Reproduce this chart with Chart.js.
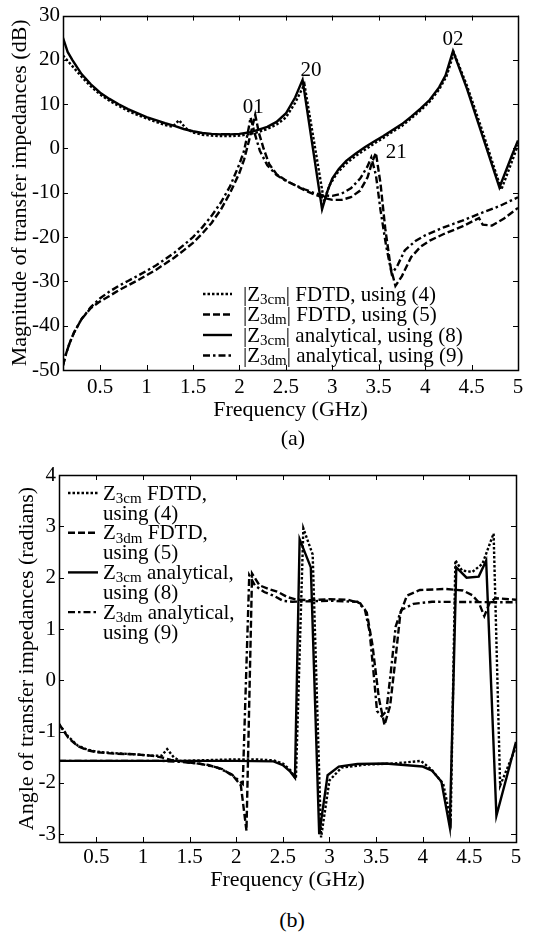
<!DOCTYPE html>
<html>
<head>
<meta charset="utf-8">
<script src="https://cdn.jsdelivr.net/npm/chart.js@4.4.1/dist/chart.umd.min.js"></script>
<style>
  html, body { margin: 0; padding: 0; background: #fff; }
  body { width: 534px; height: 934px; position: relative; overflow: hidden;
         font-family: 'Liberation Serif', 'Times New Roman', serif; color: #000; }
  canvas { position: absolute; left: 0; }
  #magChart { top: 0; }
  #angleChart { top: 455px; }
  .caption { position: absolute; width: 60px; text-align: center; font-size: 22px; line-height: 26px; }
  #capA { left: 263px; top: 425px; }
  #capB { left: 262px; top: 907px; }
</style>
</head>
<body>
<canvas id="magChart" width="534" height="450"></canvas>
<canvas id="angleChart" width="534" height="445"></canvas>
<div class="caption" id="capA">(a)</div>
<div class="caption" id="capB">(b)</div>
<script>
const FONT = "'Liberation Serif', 'Times New Roman', serif"

const freqTicks = [0.5, 1, 1.5, 2, 2.5, 3, 3.5, 4, 4.5, 5]
const magTicks = [-50, -40, -30, -20, -10, 0, 10, 20, 30]
const angleTicks = [-3, -2, -1, 0, 1, 2, 3, 4]

// ---- (a) magnitude, dB ----
const magCmFdtdFreq = [0.1, 0.15, 0.2, 0.3, 0.4, 0.5, 0.6, 0.7, 0.8, 0.9, 1.0, 1.1, 1.2, 1.28, 1.35, 1.42, 1.5, 1.6, 1.7, 1.8, 1.9, 2.0, 2.1, 2.2, 2.3, 2.4, 2.5, 2.6, 2.7, 2.91, 2.97, 3.05, 3.15, 3.25, 3.35, 3.45, 3.55, 3.65, 3.75, 3.85, 3.95, 4.05, 4.15, 4.23, 4.31, 4.45, 4.6, 4.82, 4.93, 5.0]
const magCmFdtd = [21.0, 19.8, 18.6, 16.2, 14.0, 12.2, 10.8, 9.6, 8.5, 7.6, 6.8, 6.0, 5.3, 4.9, 6.4, 4.6, 3.6, 3.1, 2.9, 2.8, 2.8, 2.9, 3.2, 3.7, 4.4, 5.4, 7.0, 10.3, 14.5, -11.8, -8.3, -5.6, -3.4, -1.7, -0.3, 1.1, 2.4, 3.8, 5.1, 6.8, 8.6, 10.6, 13.3, 16.3, 21.6, 14.2, 5.0, -9.3, -3.2, 0.8]

const magDmFdtdFreq = [0.1, 0.13, 0.17, 0.22, 0.3, 0.4, 0.5, 0.6, 0.7, 0.8, 0.9, 1.0, 1.1, 1.2, 1.3, 1.4, 1.5, 1.6, 1.7, 1.8, 1.9, 2.0, 2.05, 2.1, 2.17, 2.21, 2.26, 2.32, 2.4, 2.5, 2.6, 2.7, 2.8, 2.9, 3.0, 3.1, 3.2, 3.3, 3.38, 3.43, 3.47, 3.52, 3.57, 3.63, 3.68, 3.75, 3.85, 3.95, 4.05, 4.2, 4.4, 4.58, 4.62, 4.72, 4.85, 5.0]
const magDmFdtd = [-49.0, -46.5, -44.0, -41.5, -38.5, -36.0, -34.5, -33.3, -32.0, -30.9, -29.8, -28.6, -27.4, -26.0, -24.6, -23.0, -21.3, -19.2, -16.8, -13.8, -10.0, -5.5, -2.5, 1.5, 7.6, 3.5, 0.0, -3.5, -5.8, -7.2, -8.3, -9.4, -10.3, -11.1, -11.6, -11.6, -11.0, -9.5, -6.5, -3.0, -1.0, -8.0, -18.0, -27.0, -31.0, -28.8, -24.5, -22.2, -20.8, -19.3, -17.6, -15.7, -17.2, -17.4, -15.8, -13.4]

const magCmAnaFreq = [0.1, 0.15, 0.2, 0.3, 0.4, 0.5, 0.6, 0.7, 0.8, 0.9, 1.0, 1.1, 1.2, 1.3, 1.4, 1.5, 1.6, 1.7, 1.8, 1.9, 2.0, 2.1, 2.2, 2.3, 2.4, 2.5, 2.6, 2.68, 2.89, 2.95, 3.0, 3.07, 3.15, 3.25, 3.35, 3.45, 3.55, 3.65, 3.75, 3.85, 3.95, 4.05, 4.15, 4.22, 4.3, 4.45, 4.6, 4.8, 4.93, 5.0]
const magCmAna = [25.0, 21.8, 20.0, 16.8, 14.5, 12.6, 11.2, 10.0, 8.9, 8.0, 7.1, 6.4, 5.7, 5.1, 4.4, 3.9, 3.5, 3.3, 3.2, 3.2, 3.3, 3.6, 4.2, 4.9, 6.0, 7.9, 11.5, 15.5, -13.7, -9.5, -6.8, -4.6, -2.8, -1.2, 0.3, 1.6, 2.8, 4.2, 5.5, 7.2, 9.0, 11.0, 13.8, 16.5, 22.0, 13.5, 4.0, -8.8, -1.8, 1.8]

const magDmAnaFreq = [0.1, 0.13, 0.17, 0.22, 0.3, 0.4, 0.5, 0.6, 0.7, 0.8, 0.9, 1.0, 1.1, 1.2, 1.3, 1.4, 1.5, 1.6, 1.7, 1.8, 1.9, 2.0, 2.05, 2.09, 2.12, 2.17, 2.22, 2.3, 2.4, 2.5, 2.6, 2.7, 2.8, 2.9, 3.0, 3.1, 3.2, 3.3, 3.38, 3.42, 3.47, 3.52, 3.58, 3.64, 3.7, 3.78, 3.9, 4.0, 4.2, 4.4, 4.6, 4.8, 5.0]
const magDmAna = [-49.0, -46.5, -44.0, -41.5, -38.5, -35.8, -33.8, -32.3, -31.0, -29.9, -28.8, -27.6, -26.4, -25.0, -23.5, -21.8, -20.0, -17.8, -15.2, -12.2, -8.5, -3.5, -0.5, 3.5, 7.0, 3.0, -0.5, -3.8, -6.0, -7.3, -8.3, -9.2, -10.0, -10.6, -10.7, -10.2, -9.0, -6.8, -4.0, -2.0, -6.0, -14.0, -22.0, -28.3, -26.5, -23.0, -20.8, -19.6, -17.8, -16.3, -14.6, -13.0, -11.0]

// ---- (b) angle, radians ----
const angCmFdtdFreq = [0.1, 0.2, 0.3, 0.4, 0.5, 0.7, 0.9, 1.1, 1.2, 1.26, 1.33, 1.4, 1.6, 1.8, 2.0, 2.2, 2.4, 2.5, 2.58, 2.64, 2.72, 2.82, 2.91, 3.0, 3.13, 3.4, 3.7, 3.98, 4.1, 4.22, 4.3, 4.35, 4.42, 4.53, 4.64, 4.76, 4.83, 5.0]
const angCmFdtd = [-0.85, -1.1, -1.27, -1.35, -1.39, -1.42, -1.44, -1.47, -1.47, -1.34, -1.5, -1.57, -1.56, -1.55, -1.54, -1.54, -1.56, -1.62, -1.75, -1.92, 2.96, 2.45, -3.06, -1.95, -1.7, -1.64, -1.62, -1.57, -1.75, -2.02, -2.72, 2.34, 2.14, 2.11, 2.27, 2.86, -2.05, -1.3]

const angDmFdtdFreq = [0.1, 0.2, 0.3, 0.4, 0.5, 0.7, 0.9, 1.1, 1.2, 1.3, 1.5, 1.7, 1.85, 1.97, 2.05, 2.11, 2.17, 2.25, 2.35, 2.45, 2.55, 2.65, 2.8, 3.0, 3.2, 3.33, 3.4, 3.46, 3.53, 3.59, 3.65, 3.71, 3.76, 3.83, 3.97, 4.25, 4.43, 4.53, 4.6, 4.66, 4.72, 4.78, 5.0]
const angDmFdtd = [-0.85, -1.12, -1.28, -1.36, -1.4, -1.43, -1.44, -1.47, -1.5, -1.55, -1.6, -1.65, -1.73, -1.87, -2.05, -2.93, 2.08, 1.85, 1.78, 1.72, 1.62, 1.57, 1.56, 1.58, 1.57, 1.5, 1.32, 0.7, -0.35, -0.87, -0.5, 0.45, 1.3, 1.65, 1.76, 1.78, 1.75, 1.66, 1.52, 1.25, 1.52, 1.6, 1.57]

const angCmAnaFreq = [0.1, 1.0, 2.0, 2.4, 2.5, 2.58, 2.63, 2.68, 2.8, 2.89, 2.98, 3.1, 3.3, 3.6, 3.8, 4.0, 4.1, 4.2, 4.29, 4.36, 4.47, 4.6, 4.68, 4.79, 5.0]
const angCmAna = [-1.57, -1.57, -1.57, -1.58, -1.65, -1.78, -1.9, 2.75, 2.2, -3.0, -1.85, -1.68, -1.63, -1.62, -1.65, -1.68, -1.76, -1.97, -2.86, 2.2, 2.0, 2.02, 2.33, -2.64, -1.2]

const angDmAnaFreq = [0.1, 1.2, 1.4, 1.6, 1.8, 1.95, 2.07, 2.14, 2.2, 2.3, 2.4, 2.5, 2.6, 3.0, 3.3, 3.38, 3.43, 3.47, 3.51, 3.56, 3.61, 3.66, 3.71, 3.77, 3.9, 4.1, 5.0]
const angDmAna = [-1.57, -1.57, -1.59, -1.62, -1.7, -1.83, -2.02, 2.05, 1.85, 1.72, 1.65, 1.55, 1.53, 1.55, 1.53, 1.38, 0.95, 0.2, -0.6, -0.7, -0.6, 0.2, 1.05, 1.37, 1.49, 1.53, 1.52]

const magLabels = ['|Z_{3cm}| FDTD, using (4)', '|Z_{3dm}| FDTD, using (5)', '|Z_{3cm}| analytical, using (8)', '|Z_{3dm}| analytical, using (9)']
const angleLabels = ['Z_{3cm} FDTD,\nusing (4)', 'Z_{3dm} FDTD,\nusing (5)', 'Z_{3cm} analytical,\nusing (8)', 'Z_{3dm} analytical,\nusing (9)']

// resonance mode names shown next to peaks in (a)
const modeNames = ['01', '20', '21', '02']
const modeFreq = [2.15, 2.77, 3.69, 4.3]
const modeLevel = [9.3, 17.5, -1.0, 24.5]

// dotted, dashed, solid, dash-dot
const lineDashes = [[2.5, 2], [7, 3], [], [7, 3, 2.5, 3]]

function makeDataset(label, freq, values, dash) {
    return {
        label: label,
        data: freq.map((f, i) => ({ x: f, y: values[i] })),
        borderColor: '#000',
        borderWidth: 2.4,
        borderDash: dash,
        pointRadius: 0,
        tension: 0,
        fill: false
    }
}

// draws text with _{...} parts as subscripts
function drawRichText(ctx, text, x, y, size) {
    const parts = text.split(/_\{([^}]*)\}/)
    let cx = x
    parts.forEach((part, i) => {
        if (!part) return
        const sub = i % 2 === 1
        ctx.font = `${sub ? Math.round(size * 0.72) : size}px ${FONT}`
        ctx.fillText(part, cx, sub ? y + 5 : y)
        cx += ctx.measureText(part).width
    })
}

// box round the plot with inward tick marks on all four sides
const frameTicks = {
    id: 'frameTicks',
    afterDatasetsDraw(chart) {
        const { ctx, chartArea: { left, right, top, bottom }, scales: { x, y } } = chart
        const len = 5
        ctx.save()
        ctx.strokeStyle = '#000'
        ctx.lineWidth = 1
        ctx.setLineDash([])
        ctx.beginPath()
        x.ticks.forEach(t => {
            const px = Math.round(x.getPixelForValue(t.value)) + 0.5
            ctx.moveTo(px, bottom); ctx.lineTo(px, bottom - len)
            ctx.moveTo(px, top); ctx.lineTo(px, top + len)
        })
        y.ticks.forEach(t => {
            const py = Math.round(y.getPixelForValue(t.value)) + 0.5
            ctx.moveTo(left, py); ctx.lineTo(left + len, py)
            ctx.moveTo(right, py); ctx.lineTo(right - len, py)
        })
        ctx.stroke()
        ctx.lineWidth = 1.5
        ctx.strokeRect(Math.round(left) + 0.5, Math.round(top) + 0.5, Math.round(right - left), Math.round(bottom - top))
        ctx.restore()
    }
}

function richLegend(box) {
    return {
        id: 'richLegend',
        afterDraw(chart) {
            const ctx = chart.ctx
            ctx.save()
            ctx.fillStyle = '#000'
            ctx.strokeStyle = '#000'
            ctx.textBaseline = 'middle'
            ctx.textAlign = 'left'
            chart.data.datasets.forEach((ds, i) => {
                const rowY = box.y + i * box.rowGap
                ctx.lineWidth = 2.4
                ctx.setLineDash(ds.borderDash)
                ctx.beginPath()
                ctx.moveTo(box.x, rowY)
                ctx.lineTo(box.x + box.sampleWidth, rowY)
                ctx.stroke()
                ds.label.split('\n').forEach((line, j) => {
                    drawRichText(ctx, line, box.x + box.sampleWidth + box.textGap, rowY + 1 + j * box.lineGap, box.fontSize)
                })
            })
            ctx.restore()
        }
    }
}

const modeLabels = {
    id: 'modeLabels',
    afterDraw(chart) {
        const { ctx, scales: { x, y } } = chart
        ctx.save()
        ctx.fillStyle = '#000'
        ctx.font = `21px ${FONT}`
        ctx.textAlign = 'center'
        ctx.textBaseline = 'middle'
        modeNames.forEach((name, i) => {
            ctx.fillText(name, x.getPixelForValue(modeFreq[i]), y.getPixelForValue(modeLevel[i]))
        })
        ctx.restore()
    }
}

function makeOptions(o) {
    return {
        responsive: false,
        animation: false,
        layout: { padding: o.padding },
        plugins: { legend: { display: false }, tooltip: { enabled: false } },
        scales: {
            x: {
                type: 'linear',
                min: 0.1,
                max: 5,
                afterBuildTicks: (scale) => { scale.ticks = freqTicks.map(v => ({ value: v })) },
                afterFit: (scale) => { scale.height = o.xAxisHeight },
                grid: { display: false, drawTicks: false },
                border: { display: false },
                ticks: { color: '#000', font: { family: FONT, size: 21 }, padding: o.xTickPad, maxRotation: 0, autoSkip: false, callback: v => String(v) },
                title: { display: true, text: 'Frequency (GHz)', color: '#000', font: { family: FONT, size: 22 }, padding: { top: 0, bottom: o.xTitlePad } }
            },
            y: {
                type: 'linear',
                min: o.yMin,
                max: o.yMax,
                afterBuildTicks: (scale) => { scale.ticks = o.yTicks.map(v => ({ value: v })) },
                afterFit: (scale) => { scale.width = o.yAxisWidth },
                grid: { display: false, drawTicks: false },
                border: { display: false },
                ticks: { color: '#000', font: { family: FONT, size: 21 }, padding: 3, autoSkip: false, callback: v => String(v) },
                title: { display: true, text: o.yTitle, color: '#000', font: { family: FONT, size: 22 }, padding: { top: o.yTitlePad, bottom: 0 } }
            }
        }
    }
}

Chart.defaults.font.family = FONT
Chart.defaults.color = '#000'

new Chart(document.getElementById('magChart').getContext('2d'), {
    type: 'line',
    data: {
        datasets: [
            makeDataset(magLabels[0], magCmFdtdFreq, magCmFdtd, lineDashes[0]),
            makeDataset(magLabels[1], magDmFdtdFreq, magDmFdtd, lineDashes[1]),
            makeDataset(magLabels[2], magCmAnaFreq, magCmAna, lineDashes[2]),
            makeDataset(magLabels[3], magDmAnaFreq, magDmAna, lineDashes[3])
        ]
    },
    options: makeOptions({
        padding: { top: 6, right: 16, left: 0, bottom: 0 },
        xAxisHeight: 80, xTickPad: 5, xTitlePad: 27,
        yAxisWidth: 63, yTitlePad: 7,
        yMin: -50, yMax: 30, yTicks: magTicks,
        yTitle: 'Magnitude of transfer impedances (dB)'
    }),
    plugins: [frameTicks, modeLabels, richLegend({ x: 203, y: 294, rowGap: 20.5, lineGap: 0, sampleWidth: 29, textGap: 11, fontSize: 21 })]
})

new Chart(document.getElementById('angleChart').getContext('2d'), {
    type: 'line',
    data: {
        datasets: [
            makeDataset(angleLabels[0], angCmFdtdFreq, angCmFdtd, lineDashes[0]),
            makeDataset(angleLabels[1], angDmFdtdFreq, angDmFdtd, lineDashes[1]),
            makeDataset(angleLabels[2], angCmAnaFreq, angCmAna, lineDashes[2]),
            makeDataset(angleLabels[3], angDmAnaFreq, angDmAna, lineDashes[3])
        ]
    },
    options: makeOptions({
        padding: { top: 20, right: 18, left: 0, bottom: 0 },
        xAxisHeight: 58, xTickPad: 3, xTitlePad: 7,
        yAxisWidth: 59, yTitlePad: 14,
        yMin: -3.15, yMax: 4, yTicks: angleTicks,
        yTitle: 'Angle of transfer impedances (radians)'
    }),
    plugins: [frameTicks, richLegend({ x: 68, y: 38, rowGap: 39.7, lineGap: 20, sampleWidth: 30, textGap: 5, fontSize: 21 })]
})
</script>
</body>
</html>
